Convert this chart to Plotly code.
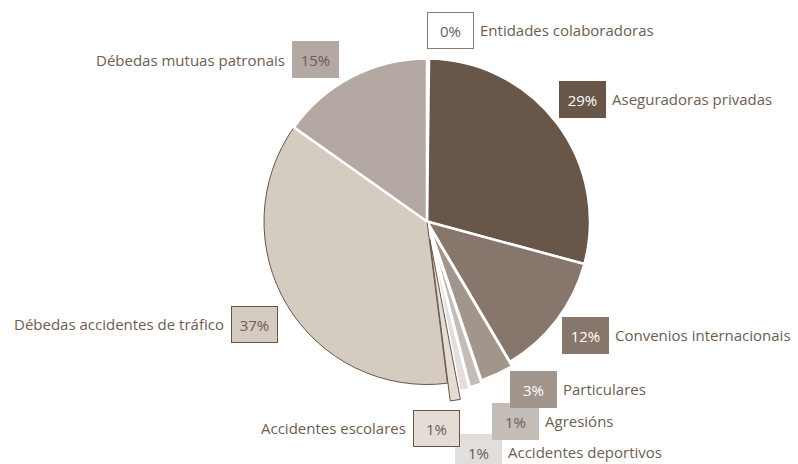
import plotly.graph_objects as go

# ---- data ----
categories = [
    "Entidades colaboradoras",
    "Aseguradoras privadas",
    "Convenios internacionais",
    "Particulares",
    "Agresións",
    "Accidentes deportivos",
    "Accidentes escolares",
    "Débedas accidentes de tráfico",
    "Débedas mutuas patronais",
]
values = [0.2, 29.0, 12.3, 3.3, 1.2, 1.0, 1.0, 36.8, 15.2]

# ---- styles ----
slice_colors = ["#ffffff", "#685648", "#87766b", "#a2958c", "#c4bcb6",
                "#e2dedb", "#e3ddd6", "#d4cbc1", "#b3a8a2"]
line_colors = ["#ffffff", "#ffffff", "#ffffff", "#ffffff", "#ffffff",
               "#ffffff", "#6b5447", "#6b5447", "#ffffff"]
line_widths = [2.5, 2.5, 2.5, 2.5, 2.5, 2.5, 1, 1, 2.5]
pulls = [0, 0, 0, 0.03, 0.05, 0.06, 0.11, 0, 0]

box_bg = ["#ffffff", "#685648", "#87766b", "#a2958c", "#c4bcb6",
          "#e2dedb", "#e3ddd6", "#d4cbc1", "#b3a8a2"]
box_border = ["#8a7a70", "#685648", "#87766b", "#a2958c", "#c4bcb6",
              "#e2dedb", "#6b5447", "#6b5447", "#b3a8a2"]
box_text = ["#6e5d52", "#ffffff", "#ffffff", "#ffffff", "#6e5d52",
            "#6e5d52", "#6e5d52", "#6e5d52", "#6e5d52"]
# box centre (px), side of name ('r' = name to the right of box)
box_pos = [(450, 30, "r"), (582, 99, "r"), (585, 335, "r"), (533, 389, "r"),
           (515, 421, "r"), (478, 452, "r"), (436, 428, "l"), (254, 324, "l"),
           (315, 60, "l")]
draw_order = [0, 1, 2, 5, 4, 3, 6, 7, 8]

W, H = 798, 464
TXT = "#6e5d52"
FONT = "Open Sans"
FS = 15

fig = go.Figure()
maxpull = max(pulls)
cx, cy, R = 427, 221.5, 163
half = R * (1 + maxpull)
fig.add_trace(go.Pie(
    labels=categories, values=values, sort=False, direction="clockwise",
    rotation=0, pull=pulls, textinfo="none", hoverinfo="label+percent",
    marker=dict(colors=slice_colors, line=dict(color=line_colors, width=line_widths)),
    domain=dict(x=[(cx - half) / W, (cx + half) / W],
                y=[1 - (cy + half) / H, 1 - (cy - half) / H]),
    showlegend=False,
))

annotations = []
bw, bh = 47, 37
for i in draw_order:
    bx, by, side = box_pos[i]
    pct = f"{round(values[i] / sum(values) * 100)}%"
    annotations.append(dict(
        x=bx / W, y=1 - by / H, xref="paper", yref="paper",
        text=pct, showarrow=False, xanchor="center", yanchor="middle",
        width=bw - 2, height=bh - 2, borderpad=0, borderwidth=1,
        bgcolor=box_bg[i], bordercolor=box_border[i],
        font=dict(family=FONT, size=FS, color=box_text[i]),
    ))
    if side == "r":
        annotations.append(dict(
            x=(bx + bw / 2 + 4) / W, y=1 - by / H, xref="paper", yref="paper",
            text=categories[i], showarrow=False, xanchor="left", yanchor="middle",
            font=dict(family=FONT, size=FS, color=TXT),
        ))
    else:
        annotations.append(dict(
            x=(bx - bw / 2 - 5) / W, y=1 - by / H, xref="paper", yref="paper",
            text=categories[i], showarrow=False, xanchor="right", yanchor="middle",
            font=dict(family=FONT, size=FS, color=TXT),
        ))

fig.update_layout(
    width=W, height=H, margin=dict(l=0, r=0, t=0, b=0),
    paper_bgcolor="#ffffff", plot_bgcolor="#ffffff",
    annotations=annotations, font=dict(family=FONT),
)
fig.write_html("out.html", config={"displayModeBar": False},
               post_script="document.body.style.margin='0';")
